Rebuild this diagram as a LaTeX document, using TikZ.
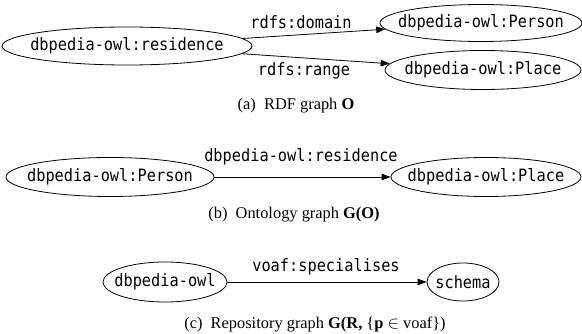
\documentclass[tikz,border=0pt]{standalone}
\usepackage{fontspec}
\setmainfont{Liberation Serif}
\newfontfamily\monof[FakeStretch=0.9]{DejaVu Sans Mono}
\usetikzlibrary{shapes.geometric,arrows.meta}
\tikzset{
  ell/.style={ellipse, draw, line width=0.8pt, inner sep=0pt, minimum width=#1},
  lbl/.style={inner sep=0pt, font=\monof\fontsize{17}{19}\selectfont},
  captext/.style={inner sep=0pt, font=\fontsize{16.4}{19}\selectfont},
  conn/.style={draw, line width=0.8pt, -{Triangle[length=9pt,width=6.5pt]}}
}
\newcommand{\mt}[1]{\makebox[0pt]{\monof\fontsize{17}{19}\selectfont #1}}
\begin{document}
\begin{tikzpicture}[x=1pt,y=-1pt]
\useasboundingbox (0,0) rectangle (582,334);
% (a)
\node[ell=250pt, minimum height=38pt] (res) at (127,46) {\mt{dbpedia-owl:residence}};
\node[ell=202pt, minimum height=37pt] (perA) at (481,23) {\mt{dbpedia-owl:Person}};
\node[ell=196pt, minimum height=39pt] (plaA) at (483,70) {\mt{dbpedia-owl:Place}};
\draw[conn] (res) -- (perA);
\draw[conn] (res) -- (plaA);
\node[lbl] (dom) at (301,22) {rdfs:domain};
\node[lbl] (rng) at (304,71) {rdfs:range};
\node[captext] (capA) at (296,106) {(a)\hspace{0.5em}RDF graph \textbf{O}};
% (b)
\node[ell=208pt, minimum height=39pt] (perB) at (110,177) {\mt{dbpedia-owl:Person}};
\node[ell=190pt, minimum height=39pt] (plaB) at (486,177) {\mt{dbpedia-owl:Place}};
\draw[conn] (perB) -- (plaB);
\node[lbl] (resB) at (301,157) {dbpedia-owl:residence};
\node[captext] (capB) at (294,215) {(b)\hspace{0.5em}Ontology graph \textbf{G(O)}};
% (c)
\node[ell=124pt, minimum height=40pt] (dbo) at (165,282) {\mt{dbpedia-owl}};
\node[ell=72pt, minimum height=38pt] (sch) at (463,282) {\mt{schema}};
\draw[conn] (dbo) -- (sch);
\node[lbl] (spec) at (326,267) {voaf:specialises};
\node[captext] (capC) at (315,324) {(c)\hspace{0.5em}Repository graph \textbf{G(R,} \{\textbf{p} $\in$ voaf\})};
\end{tikzpicture}
\end{document}
